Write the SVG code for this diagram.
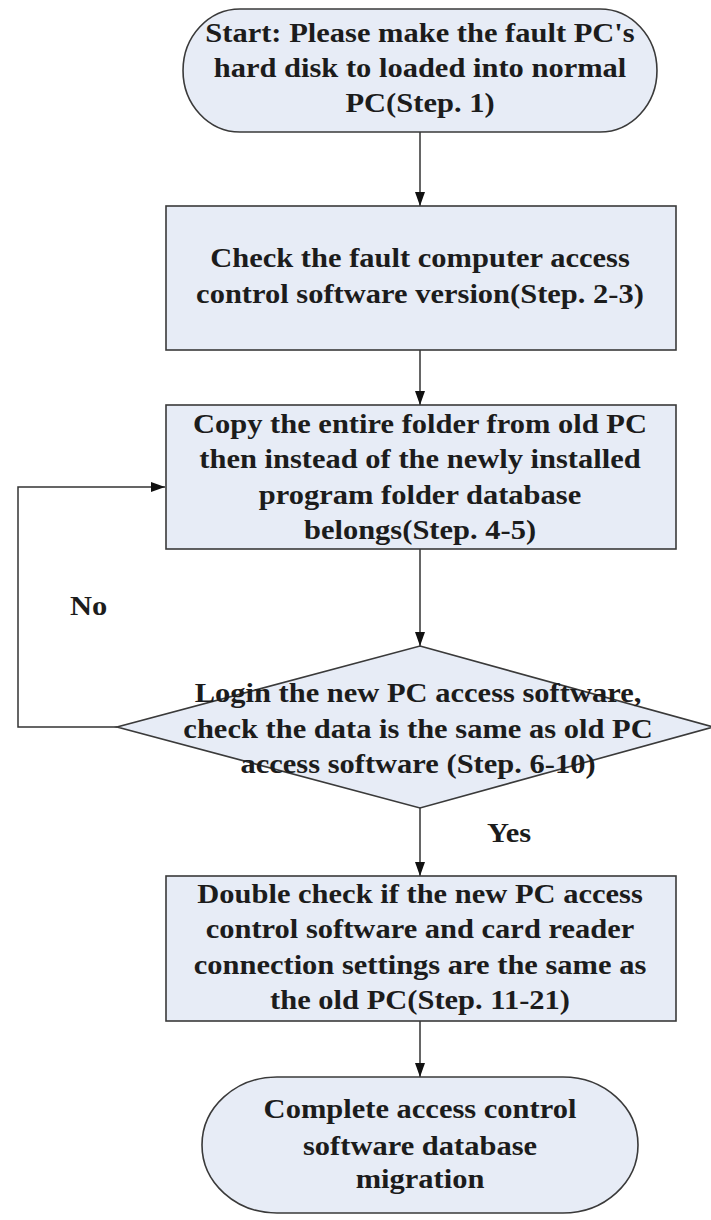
<svg xmlns="http://www.w3.org/2000/svg" width="711" height="1220" viewBox="0 0 711 1220">
<style>
.shape{fill:#e7ecf6;stroke:#3a3a3a;stroke-width:1.6}
.conn{fill:none;stroke:#333;stroke-width:1.5}
.t{font-family:"Liberation Serif","Times New Roman",serif;font-weight:bold;font-size:27px;fill:#1c1c1c;text-anchor:middle}
.lbl{font-family:"Liberation Serif","Times New Roman",serif;font-weight:bold;font-size:27px;fill:#1c1c1c}
</style>
<defs>
<marker id="arrL" viewBox="0 0 14 10" refX="14" refY="5" markerWidth="14" markerHeight="10" markerUnits="userSpaceOnUse" orient="auto">
<path d="M0,0 L14,5 L0,10 Z" fill="#111"/>
</marker>
</defs>
<rect width="711" height="1220" fill="#fff"/>
<g id="connectors">
<line class="conn" x1="420" y1="132" x2="420" y2="206" marker-end="url(#arrL)"/>
<line class="conn" x1="420" y1="350" x2="420" y2="405" marker-end="url(#arrL)"/>
<line class="conn" x1="420" y1="549" x2="420" y2="646" marker-end="url(#arrL)"/>
<line class="conn" x1="420" y1="808" x2="420" y2="876" marker-end="url(#arrL)"/>
<line class="conn" x1="420" y1="1021" x2="420" y2="1077" marker-end="url(#arrL)"/>
<polyline class="conn" points="117,727 18,727 18,487 165,487" marker-end="url(#arrL)"/>
<text class="lbl" transform="translate(70 615) scale(1.13 1)">No</text>
<text class="lbl" transform="translate(487 842) scale(1.13 1)">Yes</text>
</g>
<g id="start">
<path class="shape" d="M240,9 H600 A57,61.5 0 0 1 600,132 H240 A57,61.5 0 0 1 240,9 Z"/>
<text class="t" transform="translate(420 42) scale(1.13 1)">Start: Please make the fault PC's</text>
<text class="t" transform="translate(420 77) scale(1.13 1)">hard disk to loaded into normal</text>
<text class="t" transform="translate(420 112) scale(1.13 1)">PC(Step. 1)</text>
</g>
<g id="check-version">
<rect class="shape" x="166" y="206" width="510" height="144"/>
<text class="t" transform="translate(420 267) scale(1.13 1)">Check the fault computer access</text>
<text class="t" transform="translate(420 303) scale(1.13 1)">control software version(Step. 2-3)</text>
</g>
<g id="copy-folder">
<rect class="shape" x="166" y="405" width="510" height="144"/>
<text class="t" transform="translate(420 433) scale(1.13 1)">Copy the entire folder from old PC</text>
<text class="t" transform="translate(420 468) scale(1.13 1)">then instead of the newly installed</text>
<text class="t" transform="translate(420 504) scale(1.13 1)">program folder database</text>
<text class="t" transform="translate(420 539) scale(1.13 1)">belongs(Step. 4-5)</text>
</g>
<g id="login-check">
<polygon class="shape" points="420,646 713,727 420,808 117,727"/>
<text class="t" transform="translate(418 702) scale(1.13 1)">Login the new PC access software,</text>
<text class="t" transform="translate(418 738) scale(1.13 1)">check the data is the same as old PC</text>
<text class="t" transform="translate(418 773) scale(1.13 1)">access software (Step. 6-10)</text>
</g>
<g id="double-check">
<rect class="shape" x="166" y="876" width="510" height="145"/>
<text class="t" transform="translate(420 903) scale(1.13 1)">Double check if the new PC access</text>
<text class="t" transform="translate(420 938) scale(1.13 1)">control software and card reader</text>
<text class="t" transform="translate(420 974) scale(1.13 1)">connection settings are the same as</text>
<text class="t" transform="translate(420 1009) scale(1.13 1)">the old PC(Step. 11-21)</text>
</g>
<g id="end">
<path class="shape" d="M277,1077 H563 A75,68 0 0 1 563,1213 H277 A75,68 0 0 1 277,1077 Z"/>
<text class="t" transform="translate(420 1118) scale(1.13 1)">Complete access control</text>
<text class="t" transform="translate(420 1155) scale(1.13 1)">software database</text>
<text class="t" transform="translate(420 1188) scale(1.13 1)">migration</text>
</g>
</svg>
